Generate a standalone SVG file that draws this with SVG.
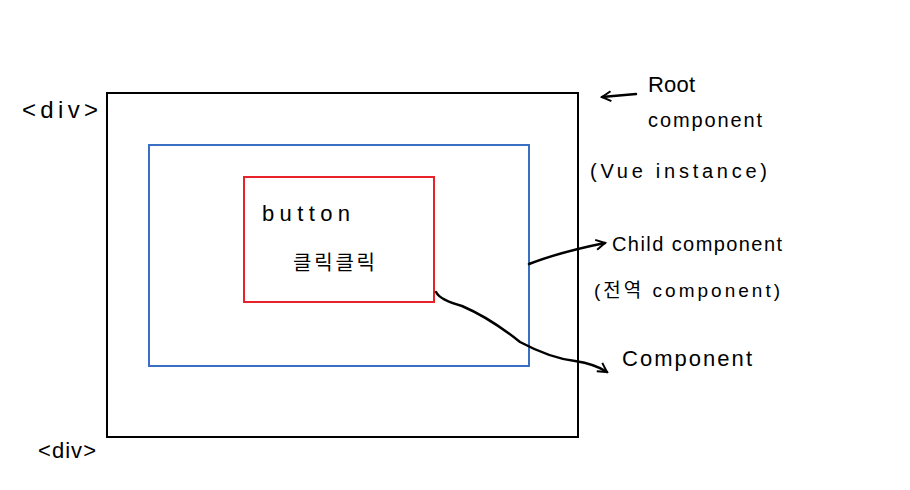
<svg xmlns="http://www.w3.org/2000/svg" width="910" height="490" viewBox="0 0 910 490">
<style>
.t{font-family:"Liberation Sans","Noto Sans CJK KR",sans-serif;fill:#000;}
.c{fill:none;stroke:#000;stroke-width:2.5;stroke-linecap:round;stroke-linejoin:round;}
</style>
<defs>
<marker id="ah" viewBox="0 0 12 12" refX="10" refY="6" markerWidth="12" markerHeight="12" markerUnits="userSpaceOnUse" orient="auto">
<path d="M1,1 L10,6 L1,11" fill="none" stroke="#000" stroke-width="2"/>
</marker>
</defs>
<rect width="910" height="490" fill="#fff"/>
<g id="root">
<rect x="107" y="93" width="471" height="344" fill="none" stroke="#000" stroke-width="2"/>
</g>
<g id="child">
<rect x="149" y="145" width="380" height="221" fill="none" stroke="#3a6fc4" stroke-width="2"/>
</g>
<g id="button">
<rect x="244" y="177" width="190" height="125" fill="none" stroke="#e8212a" stroke-width="2"/>
<text class="t" x="262" y="221" font-size="22" textLength="88" lengthAdjust="spacing">button</text>
<text class="t" x="293" y="270" font-size="20" textLength="82" lengthAdjust="spacing">클릭클릭</text>
</g>
<g id="labels">
<text class="t" x="22" y="118" font-size="24" textLength="76" lengthAdjust="spacing">&lt;div&gt;</text>
<text class="t" x="38" y="458" font-size="22" textLength="58" lengthAdjust="spacing">&lt;div&gt;</text>
<text class="t" x="648" y="92" font-size="22" textLength="47" lengthAdjust="spacing">Root</text>
<text class="t" x="648" y="127" font-size="20" textLength="114" lengthAdjust="spacing">component</text>
<text class="t" x="590" y="178" font-size="20" textLength="177" lengthAdjust="spacing">(Vue instance)</text>
<text class="t" x="612" y="251" font-size="20" textLength="170" lengthAdjust="spacing">Child component</text>
<text class="t" x="594" y="297" font-size="19" textLength="186" lengthAdjust="spacing">(전역 component)</text>
<text class="t" x="622" y="366" font-size="22" textLength="130" lengthAdjust="spacing">Component</text>
</g>
<g id="connectors">
<path class="c" d="M636,94 L602,97" marker-end="url(#ah)"/>
<path class="c" d="M529,264 Q560,252 605,243" marker-end="url(#ah)"/>
<path class="c" d="M436,292 Q440,300 462,306 Q490,318 520,342 Q550,358 575,361 Q595,364 607,372" marker-end="url(#ah)"/>
</g>
</svg>
